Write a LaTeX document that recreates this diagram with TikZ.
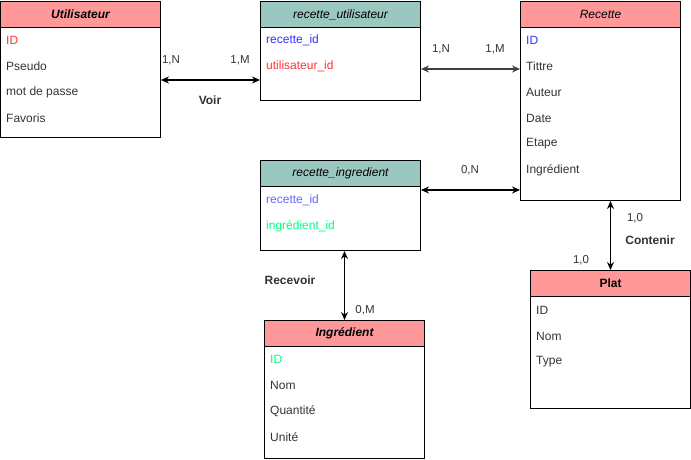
\documentclass[tikz,border=0pt]{standalone}
\usepackage{fontspec}
\setmainfont{Liberation Sans}
\usetikzlibrary{arrows.meta}

\definecolor{entrouge}{HTML}{FF9999}
\definecolor{entvert}{HTML}{9AC7BF}
\definecolor{txtbleu}{HTML}{3333FF}
\definecolor{txtbleuclair}{HTML}{6666FF}
\definecolor{txtvert}{HTML}{00FF80}
\definecolor{txtrouge}{HTML}{FF3333}

\tikzset{
  entete/.style={draw, line width=1pt, minimum width=160pt, minimum height=26pt,
    anchor=north west, inner sep=0pt, font=\fontsize{12}{14}\selectfont},
  corps/.style={draw, line width=1pt, minimum width=160pt, anchor=north west, inner sep=0pt},
  champ/.style={anchor=west, inner sep=0pt, text=black!80, font=\fontsize{12}{14}\selectfont},
  card/.style={inner sep=0pt, text=black!80, font=\fontsize{11.5}{13}\selectfont},
  lien/.style={{Stealth[length=8pt,width=7pt]}-{Stealth[length=8pt,width=7pt]}, line width=1.3pt}
}

\begin{document}
\begin{tikzpicture}[x=1pt,y=-1pt]
  \useasboundingbox (0,0) rectangle (691,459);

  % Utilisateur
  \node[entete, fill=entrouge] (utilH) at (0,1) {\bfseries\itshape Utilisateur};
  \node[corps, minimum height=110pt] (util) at (0,27) {};
  \node[champ, text=txtrouge] at (6,40) {ID};
  \foreach \y/\t in {66/Pseudo, 92/mot de passe, 118/Favoris} {
    \node[champ] at (6,\y) {\t};
  }

  % recette_utilisateur
  \node[entete, fill=entvert] (ruH) at (260,1) {\itshape recette\_utilisateur};
  \node[corps, minimum height=73pt] (ru) at (260,27) {};
  \node[champ, text=txtbleu] at (266,40) {recette\_id};
  \node[champ, text=txtrouge] at (266,66) {utilisateur\_id};

  % Recette
  \node[entete, fill=entrouge] (recH) at (520,1) {\itshape Recette};
  \node[corps, minimum height=173pt] (rec) at (520,27) {};
  \node[champ, text=txtbleu] at (526,40) {ID};
  \foreach \y/\t in {66/Tittre, 92/Auteur, 118/Date, 144/Etape, 170/Ingrédient} {
    \node[champ] at (526,\y) {\t};
  }

  % recette_ingredient
  \node[entete, fill=entvert] (riH) at (260,160) {\itshape recette\_ingredient};
  \node[corps, minimum height=64pt] (ri) at (260,186) {};
  \node[champ, text=txtbleuclair] at (266,200) {recette\_id};
  \node[champ, text=txtvert] at (266,226) {ingrédient\_id};

  % Ingrédient
  \node[entete, fill=entrouge] (ingH) at (264,320) {\bfseries\itshape Ingrédient};
  \node[corps, minimum height=112pt] (ing) at (264,346) {};
  \node[champ, text=txtvert] at (270,359) {ID};
  \foreach \y/\t in {385/Nom, 411/Quantité, 437/Unité} {
    \node[champ] at (270,\y) {\t};
  }

  % Plat
  \node[entete, fill=entrouge] (platH) at (530,270) {\bfseries Plat};
  \node[corps, minimum height=112pt] (plat) at (530,296) {};
  \foreach \y/\t in {310/ID, 336/Nom, 362/Type} {
    \node[champ] at (536,\y) {\t};
  }

  % Liens
  \draw[lien] ([yshift=-53pt]util.north east) -- ([yshift=-53pt]ru.north west);
  \draw[lien, black!75] ([yshift=-42pt]ru.north east) -- ([yshift=-42pt]rec.north west);
  \coordinate (p3) at ([yshift=-4pt]ri.north east);
  \draw[lien] (p3) -- (p3 -| rec.west);
  \draw[lien] (platH.north |- rec.south) -- (platH.north);
  \draw[lien] (ingH.north |- ri.south) -- (ingH.north);

  % Cardinalites
  \node[card] (c1) at (171,60) {1,N};
  \node[card] (c2) at (240,60) {1,M};
  \node[card, font=\bfseries\fontsize{12}{14}\selectfont] (voir) at (210,100) {Voir};
  \node[card] (c3) at (441,49) {1,N};
  \node[card] (c4) at (495,49) {1,M};
  \node[card] (c5) at (470,170) {0,N};
  \node[card] (c6) at (635,218) {1,0};
  \node[card, font=\bfseries\fontsize{12}{14}\selectfont] (contenir) at (650,240) {Contenir};
  \node[card] (c7) at (581,260) {1,0};
  \node[card, font=\bfseries\fontsize{12}{14}\selectfont] (recevoir) at (290,280) {Recevoir};
  \node[card] (c8) at (365,310) {0,M};

\end{tikzpicture}
\end{document}
